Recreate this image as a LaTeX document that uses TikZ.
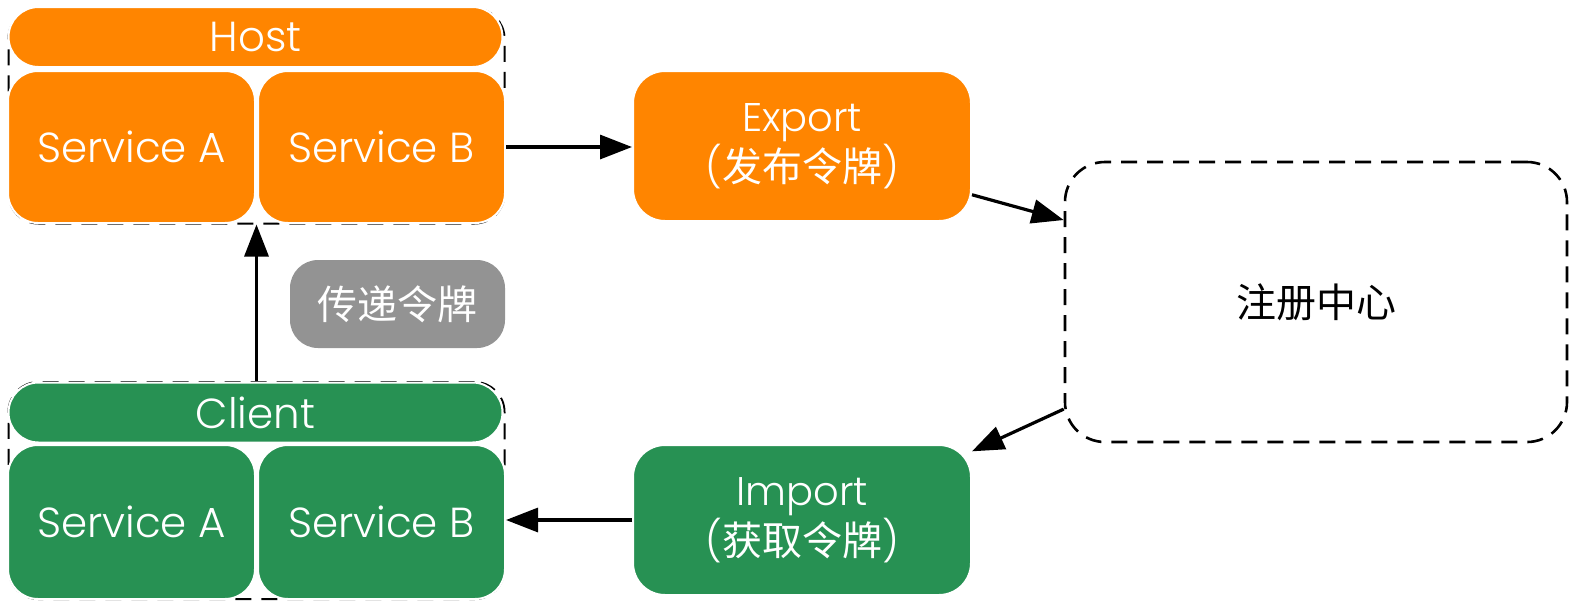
\documentclass[tikz,border=0pt]{standalone}
\usepackage{fontspec}
\setmainfont{Poppins Light}
\newfontfamily\cjk{Noto Sans CJK SC}
\usetikzlibrary{arrows.meta,positioning}
\definecolor{hostorange}{RGB}{255,133,0}
\definecolor{clientgreen}{RGB}{39,145,83}
\definecolor{tokengray}{RGB}{147,147,147}

\begin{document}
\begin{tikzpicture}[x=0.5pt, y=-0.5pt,
      part/.style={draw=white, line width=1pt, rounded corners=15pt, inner sep=0pt,
        text=white, align=center, font=\fontsize{21}{24}\selectfont},
      grp/.style={draw, dash pattern=on 8pt off 5pt, line width=1pt, rounded corners=15pt,
        inner sep=0pt, minimum width=248pt},
      step2/.style={part, rounded corners=16pt, minimum width=169pt, minimum height=75pt,
        font=\fontsize{20}{22.5}\selectfont\setlength{\lineskiplimit}{-1pt}},
      arr/.style={-{Triangle[length=16pt,width=12pt]}, line width=1.6pt}]
    \useasboundingbox (0,0) rectangle (1576,607);
    \node[grp, minimum height=107.5pt] (hg) at (256.5,116) {};
    \node[grp, minimum height=108.5pt] (cg) at (256.5,490.5) {};
    \node[part, fill=hostorange, minimum width=247pt, minimum height=30pt] (h) at (255.5,37) {Host};
    \node[part, fill=hostorange, minimum width=123.5pt, minimum height=76pt] (ha) at (131.5,147) {Service A};
    \node[part, fill=hostorange, minimum width=123.5pt, minimum height=76pt] (hb) at (381.5,147) {Service B};
    \node[part, fill=clientgreen, minimum width=247pt, minimum height=30pt] (c) at (255.5,412.5) {Client};
    \node[part, fill=clientgreen, minimum width=123.5pt, minimum height=77pt] (ca) at (131.5,522) {Service A};
    \node[part, fill=clientgreen, minimum width=123.5pt, minimum height=77pt] (cb) at (381.5,522) {Service B};
    \node[step2, fill=hostorange] (ex) at (802,146) {Export\\({\cjk 发布令牌})};
    \node[step2, fill=clientgreen] (im) at (802,520) {Import\\({\cjk 获取令牌})};
    \node[draw, dash pattern=on 8pt off 5pt, line width=1.3pt, rounded corners=20pt,
      minimum width=251pt, minimum height=140pt, font=\cjk\fontsize{20}{24}\selectfont] (reg) at (1316,302) {注册中心};
    \node[part, draw=none, fill=tokengray, rounded corners=14pt, minimum width=107.5pt,
      minimum height=44pt, font=\cjk\fontsize{20}{24}\selectfont] (tok) at (397.5,304) {传递令牌};
    \draw[arr] (hb.east) -- (hb.east -| ex.west);
    \draw[arr] (ex.-16) -- (reg.162);
    \draw[arr] (reg.203) -- (im.22);
    \draw[arr] (im.west) -- (im.west -| cb.east);
    \draw[arr] (cg.north) -- (hg.south);
  \end{tikzpicture}
\end{document}
